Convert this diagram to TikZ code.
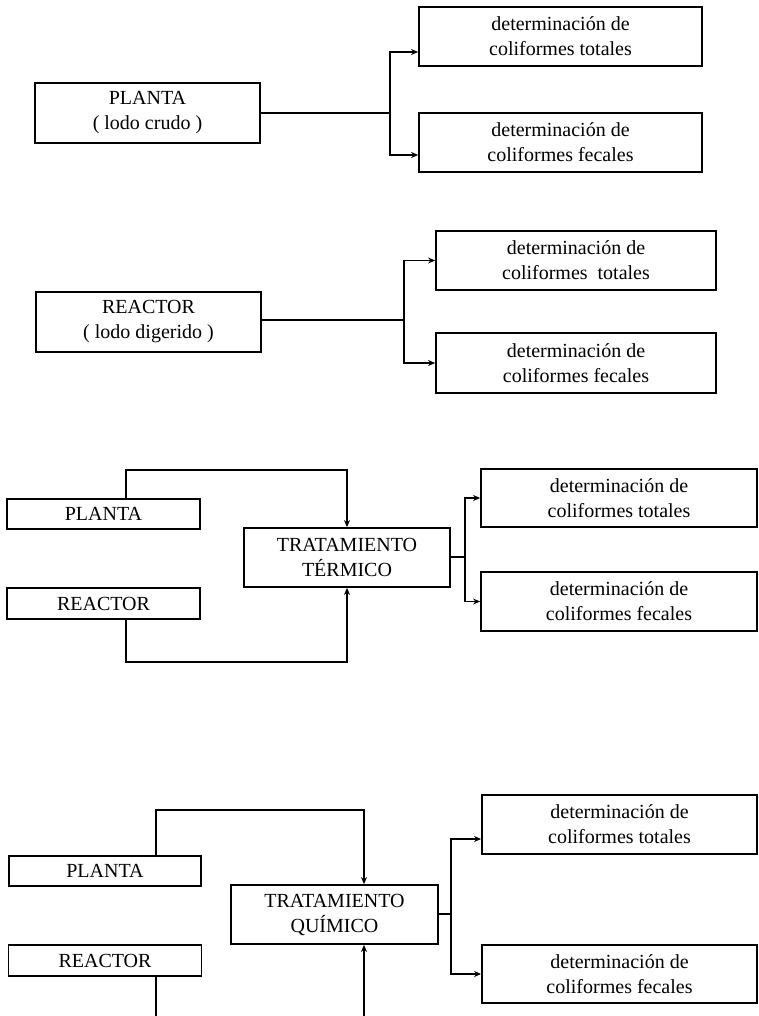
\documentclass[tikz,border=0pt]{standalone}
\usepackage{fontspec}
\setmainfont{Liberation Serif}
\usetikzlibrary{arrows.meta,calc}
\tikzset{
  box/.style={draw, line width=1.8pt, inner sep=0pt, align=center,
    font=\fontsize{20}{25}\selectfont},
  conn/.style={line width=1.6pt},
  arr/.style={conn, -{Stealth[length=7pt,width=6pt]}},
}
\begin{document}
\begin{tikzpicture}[x=1pt,y=-1pt]
\useasboundingbox (0,0) rectangle (759,1016);
% ---------- section 1 ----------
\node[box, minimum width=225pt, minimum height=60pt] (p1) at (147.5,113) {PLANTA\\( lodo crudo )};
\node[box, minimum width=283pt, minimum height=59pt] (t1) at (560.5,36.5) {determinación de\\coliformes totales};
\node[box, minimum width=283pt, minimum height=59pt] (f1) at (560.5,142.5) {determinación de\\coliformes fecales};
\coordinate (j1) at (390,113);
\draw[conn] (p1.east) -- (j1);
\draw[arr] (j1) |- ([yshift=-15.5pt]t1.west);
\draw[arr] (j1) |- ([yshift=-12.5pt]f1.west);
% ---------- section 2 ----------
\node[box, minimum width=225pt, minimum height=60pt] (r2) at (148.5,322) {REACTOR\\( lodo digerido )};
\node[box, minimum width=280pt, minimum height=59pt] (t2) at (576,260.5) {determinación de\\coliformes\ \ totales};
\node[box, minimum width=280pt, minimum height=60pt] (f2) at (576,363) {determinación de\\coliformes fecales};
\coordinate (j2) at (404,320);
\draw[conn] (r2.east |- j2) -- (j2);
\draw[arr] (j2) |- (t2.west);
\draw[arr] (j2) |- (f2.west);
% ---------- section 3 ----------
\node[box, minimum width=193pt, minimum height=30pt] (p3) at (103.5,514) {PLANTA};
\node[box, minimum width=193pt, minimum height=31pt] (r3) at (103.5,603.5) {REACTOR};
\node[box, minimum width=206pt, minimum height=59pt] (tt) at (347,557.5) {TRATAMIENTO\\TÉRMICO};
\node[box, minimum width=276pt, minimum height=58pt] (t3) at (619,498) {determinación de\\coliformes totales};
\node[box, minimum width=276pt, minimum height=59pt] (f3) at (619,601.5) {determinación de\\coliformes fecales};
\coordinate (a3) at (126,470);
\coordinate (b3) at (126,662);
\draw[arr] ([xshift=22.5pt]p3.north) |- (a3) -| (tt.north);
\draw[arr] ([xshift=22.5pt]r3.south) |- (b3) -| (tt.south);
\coordinate (j3) at (465,557);
\draw[conn] (tt.east |- j3) -- (j3);
\draw[arr] (j3) |- (t3.west);
\draw[arr] (j3) |- (f3.west);
% ---------- section 4 ----------
\node[box, minimum width=192pt, minimum height=30pt] (p4) at (105,871) {PLANTA};
\node[box, minimum width=193pt, minimum height=31pt] (r4) at (105,960.5) {REACTOR};
\node[box, minimum width=207pt, minimum height=59pt] (tq) at (334.5,914.5) {TRATAMIENTO\\QUÍMICO};
\node[box, minimum width=275pt, minimum height=59pt] (t4) at (619.5,824.5) {determinación de\\coliformes totales};
\node[box, minimum width=275pt, minimum height=58pt] (f4) at (619.5,974) {determinación de\\coliformes fecales};
\coordinate (a4) at (156,810);
\draw[arr] ([xshift=51pt]p4.north) |- (a4) -| ([xshift=29.5pt]tq.north);
\coordinate (b4) at (156,1016);
\coordinate (c4) at (364,1016);
\draw[conn] ([xshift=51pt]r4.south) -- (b4);
\draw[arr] (c4) -- ([xshift=29.5pt]tq.south);
\coordinate (j4) at (451,914);
\draw[conn] (tq.east |- j4) -- (j4);
\draw[arr] (j4) |- ([yshift=-14.5pt]t4.west);
\draw[arr] (j4) |- (f4.west);
\end{tikzpicture}
\end{document}
